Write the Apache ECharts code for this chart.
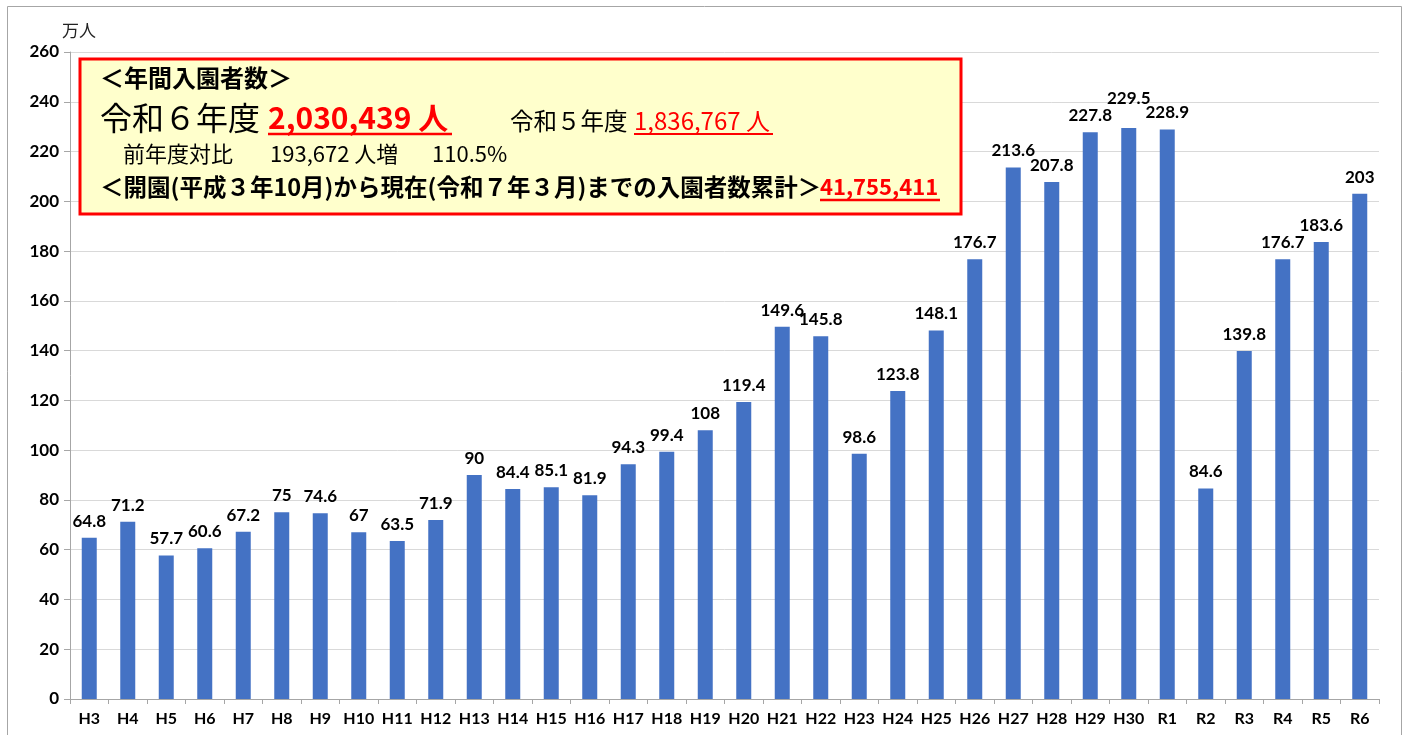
<!DOCTYPE html>
<html>
<head>
<meta charset="utf-8">
<script src="https://cdn.jsdelivr.net/npm/echarts@6/dist/echarts.min.js"></script>
<style>
html,body{margin:0;padding:0;background:#fff;}
#chart{width:1405px;height:735px;}
</style>
</head>
<body>
<div id="chart"></div>
<script>
const categories = ['H3','H4','H5','H6','H7','H8','H9','H10','H11','H12','H13','H14','H15','H16','H17','H18','H19','H20','H21','H22','H23','H24','H25','H26','H27','H28','H29','H30','R1','R2','R3','R4','R5','R6'];
const visitors = [64.8,71.2,57.7,60.6,67.2,75,74.6,67,63.5,71.9,90,84.4,85.1,81.9,94.3,99.4,108,119.4,149.6,145.8,98.6,123.8,148.1,176.7,213.6,207.8,227.8,229.5,228.9,84.6,139.8,176.7,183.6,203];
const yTicks = {min: 0, max: 260, interval: 20};
const raisedLabel = 'H30';

const latin = 'Lato, "Noto Sans", sans-serif';
const jp = '"Noto Sans CJK JP", sans-serif';

const barData = visitors.map((v, i) => categories[i] === raisedLabel
  ? {value: v, label: {offset: [0, -13]}}
  : v);

const chart = echarts.init(document.getElementById('chart'), null, {renderer: 'canvas'});
chart.setOption({
  animation: false,
  backgroundColor: '#ffffff',
  grid: {left: 70, right: 26, top: 52, bottom: 36, containLabel: false},
  xAxis: {
    type: 'category',
    data: categories,
    axisLine: {lineStyle: {color: '#A6A6A6', width: 1}},
    axisTick: {show: true, length: 5, interval: 0, lineStyle: {color: '#A6A6A6'}},
    axisLabel: {interval: 0, margin: 12, fontFamily: latin, fontWeight: 'bold', fontSize: 16, color: '#000'}
  },
  yAxis: {
    type: 'value',
    min: yTicks.min, max: yTicks.max, interval: yTicks.interval,
    name: '万人',
    nameLocation: 'end',
    nameGap: 13,
    nameTextStyle: {fontFamily: jp, fontSize: 17, color: '#222', align: 'center', padding: [0, 0, 0, 18]},
    axisLine: {show: true, lineStyle: {color: '#A6A6A6', width: 1}},
    axisTick: {show: true, length: 6, lineStyle: {color: '#A6A6A6'}},
    splitLine: {lineStyle: {color: '#D9D9D9', width: 1}},
    axisLabel: {margin: 11, fontFamily: latin, fontWeight: 'bold', fontSize: 17, color: '#000'}
  },
  series: [{
    type: 'bar',
    data: barData,
    barWidth: 15,
    itemStyle: {color: '#4472C4'},
    label: {show: true, position: 'top', distance: 8, fontFamily: latin, fontWeight: 'bold', fontSize: 17, color: '#000'}
  }],
  graphic: [
    {type: 'rect', silent: true, z: 1, shape: {x: 7.5, y: 6.5, width: 1394, height: 740}, style: {fill: null, stroke: '#A6A6A6', lineWidth: 1}},
    {type: 'rect', z: 100, shape: {x: 80, y: 59, width: 881, height: 155}, style: {fill: '#FFFFCC', stroke: '#FF0000', lineWidth: 3}},
    {type: 'text', z: 101, x: 100, y: 78, style: {text: '＜年間入園者数＞', font: 'bold 24px ' + jp, fill: '#000', verticalAlign: 'middle'}},
    {type: 'text', z: 101, x: 100, y: 118, style: {text: '令和６年度', font: '32px ' + jp, fill: '#000', verticalAlign: 'middle'}},
    {type: 'text', z: 101, x: 268, y: 118, style: {text: '2,030,439 人', font: 'bold 30px ' + jp, fill: '#FF0000', verticalAlign: 'middle'}},
    {type: 'line', z: 101, shape: {x1: 268, y1: 134, x2: 452, y2: 134}, style: {stroke: '#FF0000', lineWidth: 2.5}},
    {type: 'text', z: 101, x: 510, y: 121, style: {text: '令和５年度', font: '23.5px ' + jp, fill: '#000', verticalAlign: 'middle'}},
    {type: 'text', z: 101, x: 634, y: 121, style: {text: '1,836,767 人', font: '24px ' + jp, fill: '#FF0000', verticalAlign: 'middle'}},
    {type: 'line', z: 101, shape: {x1: 634, y1: 134, x2: 773, y2: 134}, style: {stroke: '#FF0000', lineWidth: 2}},
    {type: 'text', z: 101, x: 123, y: 154, style: {text: '前年度対比', font: '22px ' + jp, fill: '#000', verticalAlign: 'middle'}},
    {type: 'text', z: 101, x: 270, y: 154, style: {text: '193,672 人増', font: '22px ' + jp, fill: '#000', verticalAlign: 'middle'}},
    {type: 'text', z: 101, x: 432, y: 154, style: {text: '110.5%', font: '22px ' + jp, fill: '#000', verticalAlign: 'middle'}},
    {type: 'text', z: 101, x: 100, y: 187, style: {text: '＜開園(平成３年10月)から現在(令和７年３月)までの入園者数累計＞', font: 'bold 23.5px ' + jp, fill: '#000', verticalAlign: 'middle'}},
    {type: 'text', z: 101, x: 820, y: 187, style: {text: '41,755,411', font: 'bold 22px ' + jp, fill: '#FF0000', verticalAlign: 'middle'}},
    {type: 'line', z: 101, shape: {x1: 820, y1: 200, x2: 940, y2: 200}, style: {stroke: '#FF0000', lineWidth: 2.5}}
  ]
});
</script>
</body>
</html>
